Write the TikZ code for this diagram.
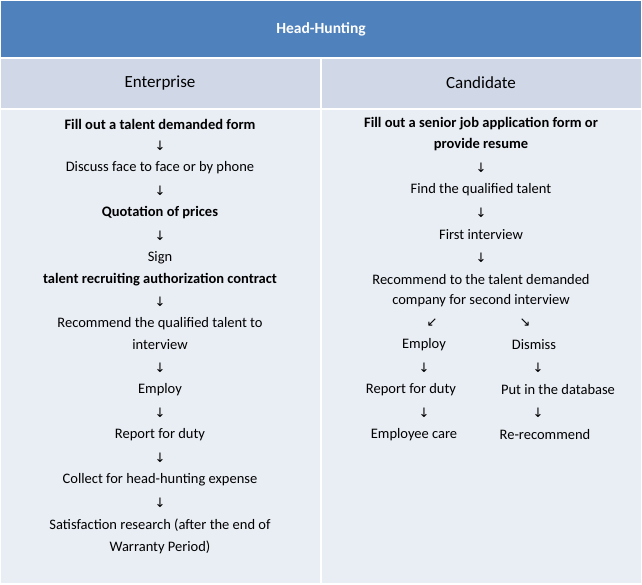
\documentclass[tikz,border=0pt]{standalone}
\usepackage{fontspec}
\setmainfont{Carlito}
\newfontfamily\arr{DejaVu Sans}
\begin{document}
\begin{tikzpicture}[x=1pt,y=-1pt,
  txt/.style={font=\fontsize{14.5}{17}\selectfont,inner sep=0pt,align=center},
  bt/.style={txt,font=\fontsize{14.5}{17}\selectfont\bfseries},
  ar/.style={inner sep=0pt,font=\arr\fontsize{13}{13}\selectfont}]
\useasboundingbox (0,0) rectangle (642,584);
\fill[white] (0,0) rectangle (642,584);
\definecolor{tb}{HTML}{4F81BD}\definecolor{hd}{HTML}{D0D8E8}\definecolor{bd}{HTML}{E9EDF4}
\fill[tb] (1,1) rectangle (641,57);
\fill[hd] (1,59) rectangle (320,108);\fill[hd] (322,59) rectangle (641,108);
\fill[bd] (1,110) rectangle (320,583);\fill[bd] (322,110) rectangle (641,583);
\node[txt,white,font=\fontsize{15.5}{18}\selectfont\bfseries] (title) at (321,29) {Head-Hunting};
\node[txt,font=\fontsize{17}{20}\selectfont] (h1) at (160,83) {Enterprise};
\node[txt,font=\fontsize{17}{20}\selectfont] (h2) at (481,83) {Candidate};
% Enterprise
\node[bt] (e1) at (160,124) {Fill out a talent demanded form};
\node[ar] (a1) at (160,146) {↓};
\node[txt] (e2) at (160,168) {Discuss face to face or by phone};
\node[ar] (a2) at (160,191) {↓};
\node[bt] (e3) at (160,213) {Quotation of prices};
\node[ar] (a3) at (160,236) {↓};
\node[txt] (e4) at (160,258) {Sign};
\node[bt] (e5) at (160,280) {talent recruiting authorization contract};
\node[ar] (a4) at (160,302) {↓};
\node[txt] (e6) at (160,324) {Recommend the qualified talent to};
\node[txt] (e6b) at (160,345) {interview};
\node[ar] (a5) at (160,368) {↓};
\node[txt] (e7) at (160,390) {Employ};
\node[ar] (a6) at (160,413) {↓};
\node[txt] (e8) at (160,435) {Report for duty};
\node[ar] (a7) at (160,458) {↓};
\node[txt] (e9) at (160,480) {Collect for head-hunting expense};
\node[ar] (a8) at (160,503) {↓};
\node[txt] (e10) at (160,525) {Satisfaction research (after the end of};
\node[txt] (e10b) at (160,547) {Warranty Period)};
% Candidate
\node[bt] (c1) at (481,124) {Fill out a senior job application form or};
\node[bt] (c1b) at (481,145) {provide resume};
\node[ar] (b1) at (481,168) {↓};
\node[txt] (c2) at (481,190) {Find the qualified talent};
\node[ar] (b2) at (481,213) {↓};
\node[txt] (c3) at (481,235) {First interview};
\node[ar] (b3) at (481,258) {↓};
\node[txt] (c4) at (481,280) {Recommend to the talent demanded};
\node[txt] (c4b) at (481,301) {company for second interview};
\node[ar] (b4) at (432,323) {↙};
\node[ar] (b5) at (525,323) {↘};
\node[txt] (c5) at (424,345) {Employ};
\node[txt] (c6) at (534,345) {Dismiss};
\node[ar] (b6) at (424,368) {↓};
\node[ar] (b7) at (538,368) {↓};
\node[txt] (c7) at (411,390) {Report for duty};
\node[txt] (c8) at (558,390) {Put in the database};
\node[ar] (b8) at (424,413) {↓};
\node[ar] (b9) at (538,413) {↓};
\node[txt] (c9) at (414,435) {Employee care};
\node[txt] (c10) at (545,435) {Re-recommend};
\end{tikzpicture}
\end{document}
